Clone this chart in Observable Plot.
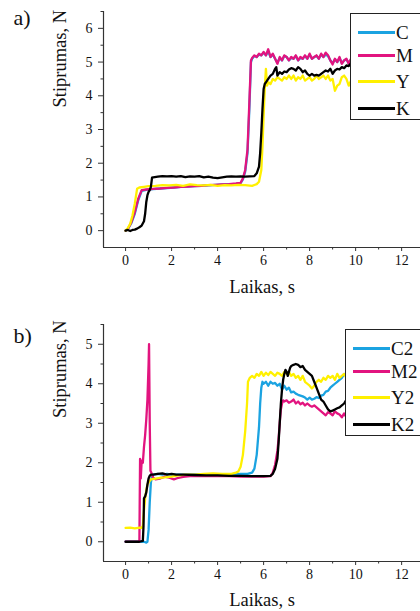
<!DOCTYPE html>
<html><head><meta charset="utf-8">
<script src="https://cdn.jsdelivr.net/npm/d3@7"></script>
<script src="https://cdn.jsdelivr.net/npm/@observablehq/plot@0.6"></script>
<style>
body{margin:0;background:#fff;}
#wrap{position:relative;width:420px;height:611px;overflow:hidden;background:#fff;font-family:"Liberation Serif", serif;}
.panel{position:absolute;left:0;}
svg, svg text, svg g{font-family:"Liberation Serif", "DejaVu Serif", serif !important;}
g[aria-label$="tick label"]{font-size:14px !important;}
.legend{position:absolute;border:1px solid #222;background:#fff;width:100px;height:105px;font-family:"Liberation Serif";font-size:19px;color:#111;}
.legend .sw{position:absolute;width:37px;height:2.5px;}
.legend .lb{position:absolute;line-height:19px;height:19px;}
</style></head><body><div id="wrap"></div>
<script>
// ---- axes / labels ----
const xDomain = [-0.96, 12.82];
const xMajor = [0, 2, 4, 6, 8, 10, 12];
const xMinor = [1, 3, 5, 7, 9, 11, 13];
const aYDomain = [-0.5, 6.5];
const aYMajor = [0, 1, 2, 3, 4, 5, 6];
const aYMinor = [0.5, 1.5, 2.5, 3.5, 4.5, 5.5, 6.5];
const bYDomain = [-0.5, 5.5];
const bYMajor = [0, 1, 2, 3, 4, 5];
const bYMinor = [0.5, 1.5, 2.5, 3.5, 4.5, 5.5];
const xLabel = "Laikas, s";
const yLabel = "Stiprumas, N";
const aNames = ["C", "M", "Y", "K"];
const bNames = ["C2", "M2", "Y2", "K2"];
const colors = ["#1ba3e1", "#e2147f", "#fff000", "#000000"];
const serif = "Liberation Serif";

// ---- panel a data ----
const aTimeM = [0,0.1,0.25,0.4,0.55,0.7,0.9,1.2,1.5,1.8,2.1,2.4,2.7,3.0,3.3,3.6,3.9,4.2,4.5,4.8,5.0,5.1,5.2,5.3,5.38,5.45,5.5,5.6,5.7,5.8,5.9,6.0,6.1,6.2,6.3,6.4,6.5,6.6,6.7,6.8,6.9,7.0,7.1,7.2,7.3,7.4,7.5,7.6,7.7,7.8,7.9,8.0,8.1,8.2,8.3,8.4,8.5,8.6,8.7,8.8,8.9,9.0,9.1,9.2,9.3,9.4,9.5,9.6,9.7,9.8];
const aC = [0,0.05,0.22,0.5,0.9,1.18,1.21,1.23,1.25,1.26,1.28,1.3,1.31,1.32,1.33,1.34,1.36,1.37,1.38,1.39,1.41,1.52,1.75,2.3,3.6,5.0,5.1,5.18,5.15,5.22,5.2,5.28,5.2,5.32,5.15,5.22,5.1,4.98,5.12,5.05,5.18,5.15,5.05,5.12,5.1,5.18,5.05,5.12,5.1,5.18,5.1,5.22,5.1,5.15,5.18,5.1,5.22,5.15,5.22,5.18,5.05,4.97,5.08,5.0,5.12,4.97,5.05,5.08,4.97,5.08];
const aM = [0,0.05,0.25,0.55,0.95,1.2,1.22,1.24,1.25,1.27,1.28,1.3,1.31,1.32,1.33,1.35,1.36,1.37,1.38,1.4,1.42,1.55,1.8,2.4,3.8,5.05,5.12,5.2,5.15,5.25,5.2,5.3,5.2,5.38,5.15,5.25,5.1,4.95,5.15,5.05,5.2,5.15,5.05,5.15,5.1,5.2,5.05,5.15,5.1,5.2,5.1,5.25,5.1,5.15,5.2,5.1,5.25,5.15,5.28,5.2,5.05,4.93,5.1,5.0,5.15,4.95,5.05,5.1,4.95,5.1];
const aTimeY = [0,0.1,0.2,0.3,0.4,0.5,0.6,0.8,1.0,1.3,1.6,1.9,2.2,2.5,2.8,3.1,3.4,3.7,4.0,4.3,4.6,4.9,5.2,5.5,5.7,5.8,5.9,5.95,6.0,6.05,6.1,6.15,6.2,6.3,6.4,6.5,6.6,6.7,6.8,6.9,7.0,7.1,7.2,7.3,7.4,7.5,7.6,7.7,7.8,7.9,8.0,8.1,8.2,8.3,8.4,8.5,8.6,8.7,8.8,8.9,9.0,9.1,9.2,9.3,9.4,9.5,9.6,9.7,9.8];
const aY = [0,0.08,0.2,0.45,0.8,1.24,1.28,1.3,1.32,1.33,1.35,1.34,1.36,1.33,1.37,1.35,1.34,1.36,1.33,1.35,1.34,1.36,1.35,1.33,1.38,1.45,1.8,2.5,3.4,4.2,4.8,4.3,4.4,4.35,4.5,4.45,4.55,4.5,4.45,4.55,4.5,4.6,4.5,4.6,4.45,4.55,4.5,4.6,4.45,4.5,4.55,4.45,4.5,4.6,4.5,4.55,4.6,4.5,4.6,4.45,4.5,4.15,4.3,4.35,4.55,4.6,4.5,4.3,4.45];
const aTimeK = [0,0.1,0.2,0.3,0.4,0.5,0.6,0.7,0.8,0.85,0.9,0.95,1.0,1.05,1.1,1.15,1.2,1.4,1.6,1.8,2.0,2.2,2.4,2.6,2.8,3.0,3.2,3.4,3.6,3.8,4.0,4.2,4.4,4.6,4.8,5.0,5.2,5.4,5.6,5.7,5.8,5.85,5.9,5.95,6.0,6.05,6.1,6.2,6.3,6.4,6.5,6.55,6.6,6.7,6.8,6.9,7.0,7.1,7.2,7.3,7.4,7.5,7.6,7.7,7.8,7.9,8.0,8.1,8.2,8.3,8.4,8.5,8.6,8.7,8.8,8.9,9.0,9.1,9.2,9.3,9.4,9.5,9.6,9.7,9.8];
const aK = [0,0.02,-0.01,0.02,0.03,0.06,0.1,0.15,0.28,0.5,0.85,1.05,1.15,1.2,1.3,1.57,1.58,1.6,1.62,1.61,1.62,1.6,1.62,1.59,1.61,1.6,1.62,1.58,1.6,1.57,1.56,1.58,1.6,1.61,1.6,1.61,1.6,1.61,1.62,1.7,1.9,2.3,2.9,3.6,4.2,4.35,4.4,4.5,4.6,4.65,4.8,4.85,4.6,4.7,4.65,4.72,4.7,4.78,4.82,4.8,4.75,4.85,4.8,4.7,4.75,4.65,4.6,4.65,4.6,4.62,4.6,4.65,4.7,4.75,4.72,4.8,4.65,4.75,4.8,4.78,4.85,4.82,4.9,4.88,4.97];

// ---- panel b data ----
const bTimeC = [0,0.3,0.6,0.8,0.9,0.95,1.0,1.05,1.1,1.15,1.2,1.4,1.6,1.8,2.0,2.5,3.0,3.5,4.0,4.5,5.0,5.3,5.5,5.6,5.7,5.8,5.85,5.9,5.95,6.0,6.1,6.2,6.3,6.4,6.5,6.6,6.7,6.8,6.9,7.0,7.1,7.2,7.3,7.4,7.5,7.6,7.7,7.8,7.9,8.0,8.1,8.2,8.3,8.4,8.5,8.6,8.7,8.8,8.9,9.0,9.1,9.2,9.3,9.4,9.5,9.6];
const bC = [0,0,0,0,-0.02,0,0.3,1.0,1.5,1.65,1.7,1.72,1.7,1.72,1.7,1.7,1.7,1.7,1.7,1.7,1.72,1.72,1.75,1.85,2.2,2.9,3.5,3.9,4.05,4.0,4.05,3.95,4.05,4.0,4.02,3.95,4.0,3.85,3.95,3.85,3.9,3.78,3.8,3.75,3.72,3.7,3.68,3.65,3.6,3.65,3.6,3.62,3.66,3.64,3.7,3.72,3.8,3.82,3.9,3.95,4.0,4.05,4.1,4.15,4.25,4.2];
const bTimeM = [0,0.3,0.6,0.63,0.66,0.7,0.75,0.8,0.85,0.9,0.95,1.0,1.02,1.05,1.08,1.12,1.2,1.3,1.5,1.7,1.9,2.1,2.3,2.5,2.8,3.2,3.6,4.0,4.5,5.0,5.5,6.0,6.3,6.4,6.5,6.6,6.65,6.7,6.75,6.8,6.85,6.9,7.0,7.1,7.2,7.3,7.4,7.5,7.6,7.7,7.8,7.9,8.0,8.1,8.2,8.3,8.4,8.5,8.6,8.7,8.8,8.9,9.0,9.1,9.2,9.3,9.4,9.5,9.6];
const bM = [0,0,0,2.1,1.6,2.05,2.0,2.4,2.7,3.1,3.6,4.5,5.0,3.0,1.8,1.75,1.62,1.58,1.6,1.65,1.62,1.58,1.62,1.64,1.66,1.67,1.66,1.67,1.66,1.65,1.65,1.65,1.66,1.75,1.95,2.3,2.6,3.0,3.35,3.5,3.58,3.55,3.58,3.52,3.55,3.6,3.5,3.55,3.48,3.52,3.45,3.5,3.45,3.42,3.45,3.4,3.35,3.3,3.25,3.2,3.28,3.25,3.2,3.3,3.25,3.22,3.15,3.25,3.15];
const bTimeY = [0,0.2,0.4,0.6,0.7,0.75,0.8,0.85,0.9,0.95,1.0,1.1,1.3,1.5,1.7,2.0,2.3,2.6,3.0,3.4,3.8,4.2,4.6,4.8,4.9,5.0,5.1,5.2,5.28,5.32,5.4,5.5,5.6,5.7,5.8,5.9,6.0,6.1,6.2,6.3,6.4,6.5,6.6,6.7,6.8,6.9,7.0,7.1,7.2,7.3,7.4,7.5,7.6,7.7,7.8,7.9,8.0,8.1,8.2,8.3,8.4,8.5,8.6,8.7,8.8,8.9,9.0,9.1,9.2,9.3,9.4,9.5,9.6];
const bY = [0.35,0.36,0.34,0.36,0.35,0.4,0.8,1.1,1.3,1.45,1.5,1.58,1.6,1.62,1.63,1.65,1.68,1.7,1.7,1.72,1.73,1.72,1.72,1.75,1.78,1.9,2.2,2.8,3.5,4.05,4.15,4.2,4.15,4.25,4.2,4.3,4.2,4.28,4.22,4.3,4.25,4.2,4.28,4.25,4.2,4.3,4.25,4.3,4.2,4.25,4.15,4.2,4.1,4.2,4.05,4.0,3.95,3.88,3.95,4.05,4.1,4.05,4.15,4.1,4.2,4.15,4.2,4.1,4.25,4.15,4.2,4.25,4.15];
const bTimeK = [0,0.3,0.6,0.75,0.78,0.8,0.85,0.9,0.95,1.0,1.05,1.1,1.2,1.4,1.6,1.8,2.0,2.2,2.5,3.0,3.5,4.0,4.5,5.0,5.5,6.0,6.3,6.4,6.5,6.6,6.65,6.7,6.75,6.8,6.85,6.9,6.95,7.0,7.05,7.1,7.15,7.2,7.3,7.4,7.5,7.6,7.7,7.8,7.9,8.0,8.1,8.2,8.3,8.4,8.5,8.6,8.7,8.8,8.9,9.0,9.1,9.2,9.3,9.4,9.5,9.6];
const bK = [0,0,0,0.02,0.4,1.1,1.15,1.25,1.45,1.6,1.67,1.7,1.7,1.72,1.73,1.7,1.72,1.7,1.7,1.69,1.68,1.68,1.67,1.67,1.66,1.66,1.67,1.72,1.85,2.1,2.5,3.0,3.5,3.85,4.1,4.25,4.35,4.3,4.2,4.3,4.4,4.45,4.48,4.5,4.48,4.42,4.45,4.35,4.3,4.25,4.2,4.05,3.9,3.75,3.6,3.55,3.45,3.35,3.3,3.32,3.35,3.38,3.4,3.45,3.5,3.6];

function rowsOf(names, times, values) {
  const rows = [];
  names.forEach((s, i) => times[i].forEach((t, j) => rows.push({t, v: values[i][j], s})));
  return rows;
}
const aRows = rowsOf(aNames, [aTimeM, aTimeM, aTimeY, aTimeK], [aC, aM, aY, aK]);
const bRows = rowsOf(bNames, [bTimeC, bTimeM, bTimeY, bTimeK], [bC, bM, bY, bK]);
const intFmt = d => String(d);

function makePanel(o) {
  return Plot.plot({
    width: 420, height: o.height,
    marginLeft: 103, marginRight: 0, marginTop: o.marginTop, marginBottom: o.marginBottom,
    style: "font-family: 'Liberation Serif', serif; font-size: 14px; color: #111; background: white;",
    x: {domain: xDomain},
    y: {domain: o.yDomain},
    color: {domain: o.names, range: colors},
    marks: [
      Plot.line(o.rows, {x: "t", y: "v", z: "s", stroke: "s", strokeWidth: 2.3, strokeLinejoin: "round"}),
      Plot.ruleX([xDomain[0]], {stroke: "#333", strokeWidth: 1.2}),
      Plot.ruleY([o.yDomain[0]], {stroke: "#333", strokeWidth: 1.2}),
      Plot.axisX({ticks: xMajor, tickSize: 4, tickPadding: 4, tickFormat: intFmt, label: null, stroke: "#333", fill: "#111", fontSize: 14, fontFamily: serif}),
      Plot.axisX({ticks: xMinor, tickSize: 2.5, tickFormat: () => "", label: null, stroke: "#333"}),
      Plot.axisY({ticks: o.yMajor, tickSize: 5, tickPadding: 6, tickFormat: intFmt, label: null, stroke: "#333", fill: "#111", fontSize: 14, fontFamily: serif}),
      Plot.axisY({ticks: o.yMinor, tickSize: 2.5, tickFormat: () => "", label: null, stroke: "#333"}),
      Plot.text([xLabel], {text: d => d, frameAnchor: "bottom", lineAnchor: "middle", dy: o.xlabDy, fontSize: 18.5, fontFamily: serif, fill: "#111"}),
      Plot.text([yLabel], {text: d => d, frameAnchor: "left", rotate: -90, dx: -43, dy: o.ylabDy, fontSize: 18.5, fontFamily: serif, fill: "#111"}),
      Plot.text([o.tag], {text: d => d, frameAnchor: "top-left", textAnchor: "start", lineAnchor: "middle", dx: -90, dy: o.tagDy, fontSize: 22, fontFamily: serif, fill: "#111"})
    ]
  });
}

const wrap = document.getElementById("wrap");
function addPanel(svg, top) {
  const d = document.createElement("div");
  d.className = "panel"; d.style.top = top + "px";
  d.appendChild(svg); wrap.appendChild(d);
}
function addLegend(names, left, top, swLeft) {
  const L = document.createElement("div");
  L.className = "legend"; L.style.left = left + "px"; L.style.top = top + "px";
  const ys = [18, 41, 67, 94];
  names.forEach((n, i) => {
    const sw = document.createElement("div");
    sw.className = "sw"; sw.style.left = swLeft + "px"; sw.style.top = (ys[i] - 1) + "px"; sw.style.background = colors[i];
    const lb = document.createElement("div");
    lb.className = "lb"; lb.style.left = (swLeft + 38) + "px"; lb.style.top = (ys[i] - 9) + "px"; lb.textContent = n;
    L.appendChild(sw); L.appendChild(lb);
  });
  wrap.appendChild(L);
}

addPanel(makePanel({rows: aRows, names: aNames, yDomain: aYDomain, yMajor: aYMajor, yMinor: aYMinor,
  height: 300, marginTop: 11, marginBottom: 53, tag: "a)", tagDy: 6, ylabDy: -22, xlabDy: 40}), 0);
addPanel(makePanel({rows: bRows, names: bNames, yDomain: bYDomain, yMajor: bYMajor, yMinor: bYMinor,
  height: 311, marginTop: 24, marginBottom: 50, tag: "b)", tagDy: 11, ylabDy: -25, xlabDy: 38.5}), 300);
addLegend(aNames, 350, 13, 7);
addLegend(bNames, 345, 329, 7);
</script></body></html>
